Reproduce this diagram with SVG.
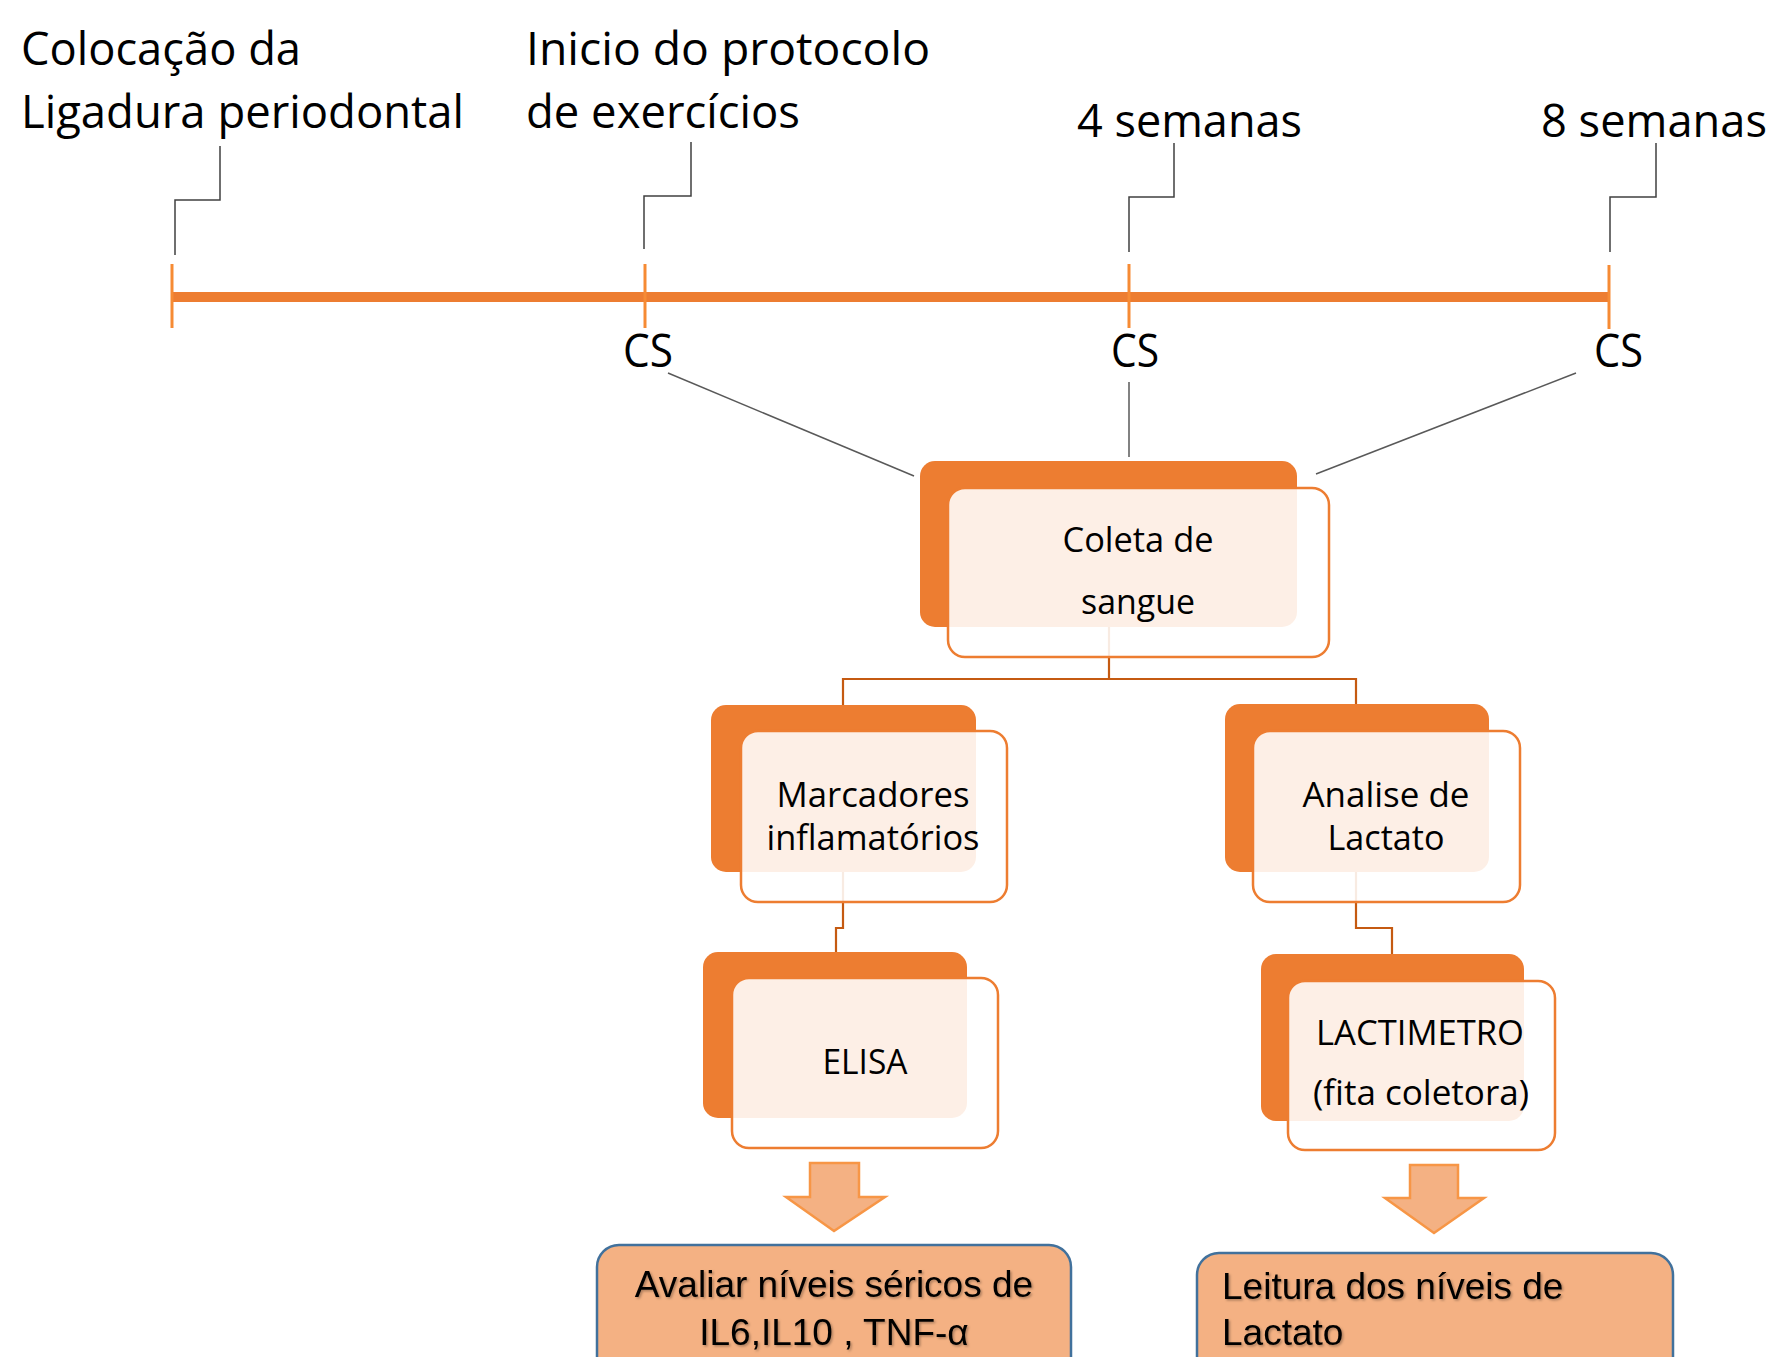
<svg xmlns="http://www.w3.org/2000/svg" width="1774" height="1357" viewBox="0 0 1774 1357">
<style>
.lbl{font-family:"Open Sans",Lato,"Liberation Sans",sans-serif;fill:#000}
.big{font-size:45px}
.nd{font-size:34px;text-anchor:middle}
.box{font-family:"Liberation Sans",Arial,sans-serif;font-size:37px;fill:#000}
.back{fill:#ED7D31}
.front{fill:#fff;fill-opacity:0.88;stroke:#ED7D31;stroke-width:2.5}
.call{fill:none;stroke:#404040;stroke-width:1.5}
.csl{fill:none;stroke:#595959;stroke-width:1.5}
.tree{fill:none;stroke:#C55A11;stroke-width:2.2}
.tick{stroke:#F68B34;stroke-width:3}
.arr{fill:#F4B183;stroke:#F79646;stroke-width:2.5;stroke-linejoin:miter}
.res{fill:#F4B183;stroke:#41719C;stroke-width:2.5}
</style>
<defs>
<filter id="sh" x="-5%" y="-20%" width="110%" height="140%">
<feDropShadow dx="1.5" dy="1.5" stdDeviation="0.8" flood-color="#000" flood-opacity="0.3"/>
</filter>
</defs>

<g id="connectors">
<polyline class="call" points="175,255 175,200 220,200 220,146"/>
<polyline class="call" points="644,249 644,196 691,196 691,142"/>
<polyline class="call" points="1129,252 1129,197 1174,197 1174,143"/>
<polyline class="call" points="1610,252 1610,197 1656,197 1656,143"/>
<line class="csl" x1="668" y1="373" x2="914" y2="476"/>
<line class="csl" x1="1129" y1="382" x2="1129" y2="457"/>
<line class="csl" x1="1576" y1="373" x2="1316" y2="474"/>
<polyline class="tree" points="1109,627 1109,679 843,679 843,705"/>
<polyline class="tree" points="1109,679 1356,679 1356,704"/>
<polyline class="tree" points="843,872 843,928 836,928 836,952"/>
<polyline class="tree" points="1356,872 1356,928 1392,928 1392,954"/>
</g>

<g id="timeline">
<line x1="172" y1="297" x2="1609" y2="297" stroke="#ED7D31" stroke-width="10"/>
<line class="tick" x1="172" y1="264" x2="172" y2="328"/>
<line class="tick" x1="645" y1="264" x2="645" y2="328"/>
<line class="tick" x1="1129" y1="264" x2="1129" y2="328"/>
<line class="tick" x1="1609" y1="265" x2="1609" y2="329"/>
</g>

<g id="label-colocacao">
<text class="lbl big" x="21" y="65" textLength="280" lengthAdjust="spacingAndGlyphs">Colocação da</text>
<text class="lbl big" x="21" y="128" textLength="443" lengthAdjust="spacingAndGlyphs">Ligadura periodontal</text>
</g>
<g id="label-inicio">
<text class="lbl big" x="526" y="65" textLength="404" lengthAdjust="spacingAndGlyphs">Inicio do protocolo</text>
<text class="lbl big" x="526" y="128" textLength="274" lengthAdjust="spacingAndGlyphs">de exercícios</text>
</g>
<g id="label-4sem"><text class="lbl big" x="1077" y="137" textLength="225" lengthAdjust="spacingAndGlyphs">4 semanas</text></g>
<g id="label-8sem"><text class="lbl big" x="1541" y="137" textLength="226" lengthAdjust="spacingAndGlyphs">8 semanas</text></g>
<g id="cs-1"><text class="lbl big" x="623" y="367" textLength="50" lengthAdjust="spacingAndGlyphs">CS</text></g>
<g id="cs-2"><text class="lbl big" x="1111" y="367" textLength="48" lengthAdjust="spacingAndGlyphs">CS</text></g>
<g id="cs-3"><text class="lbl big" x="1594" y="367" textLength="49" lengthAdjust="spacingAndGlyphs">CS</text></g>

<g id="node-coleta">
<rect class="back" x="920" y="461" width="377" height="166" rx="15"/>
<rect class="front" x="948" y="488" width="381" height="169" rx="17"/>
<text class="lbl nd" x="1138" y="552" textLength="151" lengthAdjust="spacingAndGlyphs">Coleta de</text>
<text class="lbl nd" x="1138" y="614" textLength="114" lengthAdjust="spacingAndGlyphs">sangue</text>
</g>

<g id="node-marcadores">
<rect class="back" x="711" y="705" width="265" height="167" rx="15"/>
<rect class="front" x="741" y="731" width="266" height="171" rx="17"/>
<text class="lbl nd" x="873" y="807" textLength="193" lengthAdjust="spacingAndGlyphs">Marcadores</text>
<text class="lbl nd" x="873" y="850" textLength="213" lengthAdjust="spacingAndGlyphs">inflamatórios</text>
</g>

<g id="node-analise">
<rect class="back" x="1225" y="704" width="264" height="168" rx="15"/>
<rect class="front" x="1253" y="731" width="267" height="171" rx="17"/>
<text class="lbl nd" x="1386" y="807" textLength="167" lengthAdjust="spacingAndGlyphs">Analise de</text>
<text class="lbl nd" x="1386" y="850" textLength="117" lengthAdjust="spacingAndGlyphs">Lactato</text>
</g>

<g id="node-elisa">
<rect class="back" x="703" y="952" width="264" height="166" rx="15"/>
<rect class="front" x="732" y="978" width="266" height="170" rx="17"/>
<text class="lbl nd" x="865" y="1074" textLength="85" lengthAdjust="spacingAndGlyphs">ELISA</text>
</g>

<g id="node-lactimetro">
<rect class="back" x="1261" y="954" width="263" height="167" rx="15"/>
<rect class="front" x="1288" y="981" width="267" height="169" rx="17"/>
<text class="lbl nd" x="1420" y="1045" textLength="208" lengthAdjust="spacingAndGlyphs">LACTIMETRO</text>
<text class="lbl nd" x="1421" y="1105" textLength="216" lengthAdjust="spacingAndGlyphs">(fita coletora)</text>
</g>

<g id="arrow-left">
<polygon class="arr" points="810,1163 859,1163 859,1197 885,1197 834,1231 786,1197 810,1197"/>
</g>
<g id="arrow-right">
<polygon class="arr" points="1410,1165 1458,1165 1458,1198 1484,1198 1434,1233 1385,1198 1410,1198"/>
</g>

<g id="node-avaliar">
<rect class="res" x="597" y="1245" width="474" height="160" rx="22"/>
<text class="box" x="834" y="1297" text-anchor="middle" filter="url(#sh)">Avaliar níveis séricos de</text>
<text class="box" x="834" y="1345" text-anchor="middle" filter="url(#sh)">IL6,IL10 , TNF-α</text>
</g>

<g id="node-leitura">
<rect class="res" x="1197" y="1253" width="476" height="160" rx="22"/>
<text class="box" x="1222" y="1299" filter="url(#sh)">Leitura dos níveis de</text>
<text class="box" x="1222" y="1345" filter="url(#sh)">Lactato</text>
</g>
</svg>
